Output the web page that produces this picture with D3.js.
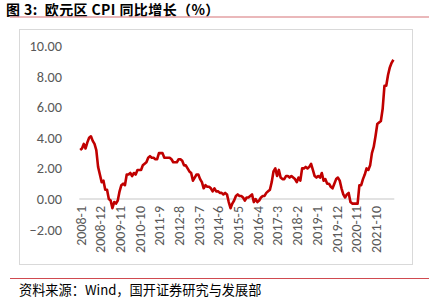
<!DOCTYPE html>
<html>
<head>
<meta charset="utf-8">
<script src="https://cdn.jsdelivr.net/npm/d3@7"></script>
<style>
  body { margin: 0; background: #fff; }
  svg { display: block; }
</style>
</head>
<body>
<svg id="chart" width="429" height="301"></svg>
<script>
// euro area HICP, y/y %, monthly 2008-1 .. 2022-8
var startYear = 2008;
var cpiValues = [
  3.2, 3.3, 3.6, 3.3, 3.7, 4.0, 4.1, 3.8, 3.6, 3.2, 2.1, 1.6,
  1.1, 1.2, 0.6, 0.6, 0.0, -0.1, -0.6, -0.2, -0.3, -0.1, 0.5, 0.9,
  1.0, 0.9, 1.6, 1.6, 1.7, 1.5, 1.7, 1.6, 1.9, 1.9, 1.9, 2.2,
  2.3, 2.4, 2.7, 2.8, 2.7, 2.7, 2.6, 2.6, 3.0, 3.0, 3.0, 2.7,
  2.7, 2.7, 2.7, 2.6, 2.4, 2.4, 2.4, 2.6, 2.6, 2.5, 2.2, 2.2,
  2.0, 1.8, 1.7, 1.2, 1.4, 1.6, 1.6, 1.3, 1.1, 0.7, 0.9, 0.8,
  0.8, 0.7, 0.5, 0.7, 0.5, 0.5, 0.4, 0.4, 0.3, 0.4, 0.3, -0.2,
  -0.6, -0.3, -0.1, 0.2, 0.3, 0.2, 0.2, 0.1, -0.1, 0.1, 0.1, 0.2,
  0.3, -0.2, 0.0, -0.2, -0.1, 0.1, 0.2, 0.2, 0.4, 0.5, 0.6, 1.1,
  1.8, 2.0, 1.5, 1.9, 1.4, 1.3, 1.3, 1.5, 1.5, 1.4, 1.5, 1.4,
  1.3, 1.1, 1.4, 1.2, 2.0, 2.0, 2.1, 2.0, 2.1, 2.3, 1.9, 1.5,
  1.4, 1.5, 1.4, 1.7, 1.2, 1.3, 1.0, 1.0, 0.8, 0.7, 1.0, 1.3,
  1.4, 1.2, 0.7, 0.3, 0.1, 0.3, 0.4, -0.2, -0.3, -0.3, -0.3, -0.3,
  0.9, 0.9, 1.3, 1.6, 2.0, 1.9, 2.2, 3.0, 3.4, 4.1, 4.9, 5.0,
  5.1, 5.9, 7.4, 7.4, 8.1, 8.6, 8.9, 9.1
];
var months = cpiValues.map(function (v, i) {
  return (startYear + Math.floor(i / 12)) + "-" + (i % 12 + 1);
});
var yTicks = [-2, 0, 2, 4, 6, 8, 10];
var labelEvery = 11;

var titleText = "图 3:  欧元区 CPI 同比增长（%）";
var sourceText = "资料来源：Wind，国开证券研究与发展部";

var svg = d3.select("#chart");

// title + rules
svg.append("text")
  .attr("x", 6).attr("y", 15)
  .attr("font-family", "'Noto Sans CJK SC', 'Liberation Sans', sans-serif")
  .attr("font-weight", "bold")
  .attr("font-size", 14)
  .attr("letter-spacing", 0.4)
  .style("white-space", "pre")
  .attr("fill", "#000")
  .text(titleText);

svg.append("line")
  .attr("x1", 10).attr("x2", 429)
  .attr("y1", 17).attr("y2", 17)
  .attr("stroke", "#e3a1a3").attr("stroke-width", 1.5);

svg.append("rect")
  .attr("x", 19.5).attr("y", 29.5)
  .attr("width", 393).attr("height", 235)
  .attr("fill", "none")
  .attr("stroke", "#d9d9d9");

svg.append("line")
  .attr("x1", 10).attr("x2", 429)
  .attr("y1", 278.5).attr("y2", 278.5)
  .attr("stroke", "#d04a50").attr("stroke-width", 1);

svg.append("text")
  .attr("x", 19).attr("y", 295)
  .attr("font-family", "'Noto Sans CJK SC', sans-serif")
  .attr("font-size", 13.2)
  .attr("fill", "#000")
  .text(sourceText);

// scales
var x = d3.scalePoint()
  .domain(months)
  .range([79.3, 394.3])
  .padding(0.5);

var y = d3.scaleLinear()
  .domain([-2, 10])
  .range([229.6, 46]);

// y labels (no axis line, no gridlines)
svg.append("g")
  .attr("transform", "translate(62,0)")
  .call(d3.axisLeft(y).tickValues(yTicks).tickSize(0).tickPadding(0)
    .tickFormat(d3.format(".2f")))
  .call(function (g) {
    g.select(".domain").remove();
    g.selectAll("text")
      .attr("fill", "#595959")
      .attr("font-family", "Carlito, 'Liberation Sans', sans-serif")
      .attr("font-size", 14.3);
  });

// zero line
svg.append("line")
  .attr("x1", 79.3).attr("x2", 394.3)
  .attr("y1", y(0)).attr("y2", y(0))
  .attr("stroke", "#d9d9d9").attr("stroke-width", 1.5);

// x labels, rotated
var xLabels = months.filter(function (m, i) { return i % labelEvery === 0; });
svg.append("g")
  .attr("transform", "translate(0," + (y(0) + 7) + ")")
  .call(d3.axisBottom(x).tickValues(xLabels).tickSize(0).tickPadding(0))
  .call(function (g) {
    g.select(".domain").remove();
    g.selectAll("text")
      .attr("transform", "rotate(-90)")
      .attr("text-anchor", "end")
      .attr("dx", 0)
      .attr("dy", "0.35em")
      .attr("x", 0).attr("y", 0)
      .attr("fill", "#595959")
      .attr("font-family", "Carlito, 'Liberation Sans', sans-serif")
      .attr("font-size", 14);
  });

// line
var line = d3.line()
  .x(function (d, i) { return x(months[i]); })
  .y(function (d) { return y(d); });

svg.append("path")
  .datum(cpiValues)
  .attr("fill", "none")
  .attr("stroke", "#c00000")
  .attr("stroke-width", 2.6)
  .attr("stroke-linejoin", "round")
  .attr("d", line);
</script>
</body>
</html>
